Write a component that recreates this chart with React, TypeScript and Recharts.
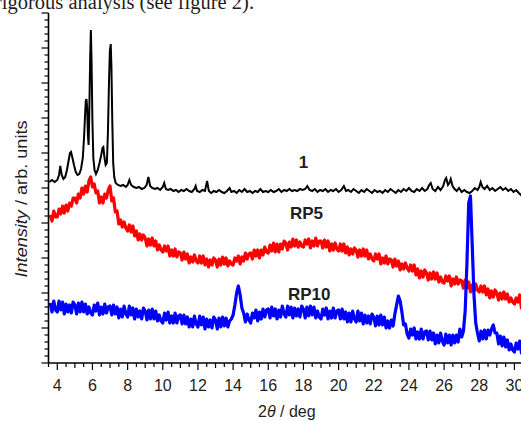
import React from 'react';
import { LineChart, Line, XAxis, YAxis } from 'recharts';

// 2θ grid shared by RP5 and RP10 scans
const gridTheta = [
  3.6, 3.7, 3.8, 3.9,
  4.0, 4.1, 4.2, 4.3, 4.4, 4.5, 4.6, 4.7, 4.8, 4.9,
  5.0, 5.1, 5.2, 5.3, 5.4, 5.5, 5.6, 5.7, 5.8, 5.9,
  6.0, 6.1, 6.2, 6.3, 6.4, 6.5, 6.6, 6.7, 6.8, 6.9,
  7.0, 7.1, 7.2, 7.3, 7.4, 7.5, 7.6, 7.7, 7.8, 7.9,
  8.0, 8.1, 8.2, 8.3, 8.4, 8.5, 8.6, 8.7, 8.8, 8.9,
  9.0, 9.1, 9.2, 9.3, 9.4, 9.5, 9.6, 9.7, 9.8, 9.9,
  10.0, 10.1, 10.2, 10.3, 10.4, 10.5, 10.6, 10.7, 10.8, 10.9,
  11.0, 11.1, 11.2, 11.3, 11.4, 11.5, 11.6, 11.7, 11.8, 11.9,
  12.0, 12.1, 12.2, 12.3, 12.4, 12.5, 12.6, 12.7, 12.8, 12.9,
  13.0, 13.1, 13.2, 13.3, 13.4, 13.5, 13.6, 13.7, 13.8, 13.9,
  14.0, 14.1, 14.2, 14.3, 14.4, 14.5, 14.6, 14.7, 14.8, 14.9,
  15.0, 15.1, 15.2, 15.3, 15.4, 15.5, 15.6, 15.7, 15.8, 15.9,
  16.0, 16.1, 16.2, 16.3, 16.4, 16.5, 16.6, 16.7, 16.8, 16.9,
  17.0, 17.1, 17.2, 17.3, 17.4, 17.5, 17.6, 17.7, 17.8, 17.9,
  18.0, 18.1, 18.2, 18.3, 18.4, 18.5, 18.6, 18.7, 18.8, 18.9,
  19.0, 19.1, 19.2, 19.3, 19.4, 19.5, 19.6, 19.7, 19.8, 19.9,
  20.0, 20.1, 20.2, 20.3, 20.4, 20.5, 20.6, 20.7, 20.8, 20.9,
  21.0, 21.1, 21.2, 21.3, 21.4, 21.5, 21.6, 21.7, 21.8, 21.9,
  22.0, 22.1, 22.2, 22.3, 22.4, 22.5, 22.6, 22.7, 22.8, 22.9,
  23.0, 23.1, 23.2, 23.3, 23.4, 23.5, 23.6, 23.7, 23.8, 23.9,
  24.0, 24.1, 24.2, 24.3, 24.4, 24.5, 24.6, 24.7, 24.8, 24.9,
  25.0, 25.1, 25.2, 25.3, 25.4, 25.5, 25.6, 25.7, 25.8, 25.9,
  26.0, 26.1, 26.2, 26.3, 26.4, 26.5, 26.6, 26.7, 26.8, 26.9,
  27.0, 27.1, 27.2, 27.3, 27.4, 27.5, 27.6, 27.7, 27.8, 27.9,
  28.0, 28.1, 28.2, 28.3, 28.4, 28.5, 28.6, 28.7, 28.8, 28.9,
  29.0, 29.1, 29.2, 29.3, 29.4, 29.5, 29.6, 29.7, 29.8, 29.9,
  30.0, 30.1, 30.2, 30.3, 30.4, 30.5, 30.6, 30.7, 30.8, 30.9,
];

// RP5 intensity (arb. units)
const rp5 = [
  148, 142, 152, 146,
  146, 154, 149, 157, 150, 158, 152, 160, 157, 165,
  165, 160, 169, 165, 175, 169, 177, 171, 182, 186,
  176, 179, 170, 172, 160, 166, 160, 169, 165, 173,
  177, 162, 165, 151, 152, 139, 143, 136, 141, 135,
  132, 138, 131, 137, 127, 132, 123, 129, 123, 128,
  125, 117, 124, 118, 125, 117, 122, 113, 118, 113,
  111, 117, 112, 117, 107, 113, 107, 114, 106, 111,
  110, 103, 111, 104, 109, 100, 106, 101, 108, 102,
  100, 107, 100, 107, 98, 104, 96, 103, 98, 105,
  103, 96, 104, 98, 106, 99, 105, 97, 102, 99,
  98, 105, 102, 107, 99, 106, 102, 110, 104, 109,
  110, 104, 113, 107, 113, 105, 113, 108, 116, 111,
  110, 118, 112, 120, 111, 119, 111, 119, 114, 122,
  120, 113, 121, 116, 124, 117, 123, 116, 121, 117,
  116, 123, 119, 124, 115, 122, 117, 125, 117, 122,
  122, 115, 123, 116, 122, 112, 119, 113, 120, 114,
  112, 119, 112, 119, 110, 116, 108, 114, 109, 115,
  113, 106, 113, 107, 114, 107, 113, 104, 109, 104,
  102, 109, 104, 109, 99, 105, 100, 107, 99, 104,
  103, 96, 104, 97, 102, 93, 99, 94, 100, 95,
  92, 98, 92, 98, 88, 94, 85, 92, 86, 93,
  90, 83, 90, 84, 91, 84, 90, 81, 86, 81,
  80, 87, 82, 87, 77, 84, 79, 86, 79, 83,
  82, 75, 83, 75, 81, 71, 78, 72, 79, 73,
  71, 77, 71, 77, 68, 74, 65, 72, 66, 73,
  70, 63, 70, 64, 71, 64, 69, 61, 65, 61,
  59, 65, 61, 68, 55, 61, 56, 63, 56, 60,
];

// RP10 intensity (arb. units)
const rp10 = [
  60, 51, 62, 53,
  51, 62, 53, 61, 49, 59, 51, 58, 50, 61,
  58, 49, 60, 51, 61, 51, 59, 49, 56, 50,
  48, 58, 52, 60, 48, 56, 49, 59, 50, 56,
  57, 48, 58, 49, 56, 45, 54, 46, 57, 49,
  46, 57, 48, 55, 44, 54, 46, 52, 44, 55,
  52, 43, 53, 44, 54, 44, 52, 42, 48, 42,
  40, 50, 43, 51, 40, 47, 40, 50, 40, 47,
  48, 39, 48, 39, 46, 36, 44, 36, 47, 39,
  36, 47, 38, 46, 34, 44, 36, 43, 35, 46,
  43, 34, 45, 36, 46, 37, 45, 36, 42, 44,
  48, 58, 70, 77, 68, 55, 50, 41, 49, 43,
  40, 50, 45, 53, 42, 51, 44, 54, 46, 53,
  54, 45, 56, 47, 54, 44, 53, 46, 57, 49,
  46, 57, 48, 56, 45, 55, 47, 54, 46, 57,
  54, 45, 56, 47, 57, 48, 56, 45, 52, 46,
  44, 54, 48, 55, 44, 52, 45, 55, 45, 52,
  53, 44, 54, 44, 51, 41, 50, 41, 52, 44,
  41, 52, 42, 50, 39, 48, 40, 47, 39, 49,
  46, 37, 47, 38, 48, 38, 46, 35, 42, 35,
  43, 37, 49, 58, 67, 62, 51, 38, 39, 29,
  25, 34, 28, 35, 24, 31, 24, 34, 24, 31,
  32, 23, 32, 23, 30, 19, 28, 20, 30, 22,
  18, 29, 20, 28, 18, 28, 20, 28, 21, 34,
  26, 32, 52, 100, 160, 167, 118, 68, 40, 30,
  22, 32, 24, 33, 24, 33, 28, 34, 38, 30,
  30, 19, 27, 17, 26, 16, 23, 13, 19, 13,
  11, 20, 14, 22, 10, 18, 11, 21, 12, 19,
];

// Sample "1": 2θ positions and intensities
const theta1 = [
  3.55, 3.7, 3.85, 4.0, 4.1, 4.17, 4.25, 4.35, 4.45, 4.55,
  4.65, 4.72, 4.78, 4.85, 4.95, 5.05, 5.15, 5.25, 5.35, 5.45,
  5.52, 5.58, 5.62, 5.66, 5.7, 5.74, 5.78, 5.82, 5.87, 5.91,
  5.95, 6.0, 6.05, 6.12, 6.2, 6.3, 6.4, 6.5, 6.57, 6.62,
  6.68, 6.75, 6.82, 6.88, 6.94, 6.99, 7.04, 7.08, 7.13, 7.18,
  7.24, 7.32, 7.45, 7.6, 7.75, 7.9, 8.0, 8.1, 8.2, 8.35,
  8.5, 8.65, 8.8, 8.95, 9.08, 9.18, 9.28, 9.4, 9.55, 9.7,
  9.85, 10.0, 10.08, 10.18, 10.3, 10.45, 10.6, 10.75, 10.9, 11.05,
  11.2, 11.35, 11.5, 11.65, 11.8, 11.87, 11.95, 12.1, 12.25, 12.4,
  12.52, 12.62, 12.75, 12.9, 13.05, 13.2, 13.35, 13.5, 13.65, 13.8,
  13.9, 14.05, 14.2, 14.35, 14.5, 14.65, 14.8, 14.95, 15.1, 15.25,
  15.4, 15.55, 15.7, 15.85, 16.0, 16.15, 16.3, 16.45, 16.6, 16.75,
  16.9, 17.05, 17.2, 17.35, 17.5, 17.65, 17.8, 17.95, 18.1, 18.22,
  18.35, 18.5, 18.65, 18.8, 18.95, 19.1, 19.25, 19.4, 19.55, 19.7,
  19.85, 20.0, 20.15, 20.3, 20.42, 20.55, 20.7, 20.85, 21.0, 21.15,
  21.3, 21.45, 21.6, 21.75, 21.9, 22.05, 22.2, 22.35, 22.5, 22.65,
  22.8, 22.95, 23.1, 23.25, 23.4, 23.55, 23.7, 23.85, 24.0, 24.15,
  24.3, 24.45, 24.6, 24.75, 24.9, 25.05, 25.15, 25.24, 25.35, 25.5,
  25.65, 25.8, 25.95, 26.05, 26.12, 26.22, 26.3, 26.38, 26.48, 26.6,
  26.72, 26.85, 27.0, 27.15, 27.3, 27.45, 27.6, 27.75, 27.9, 28.0,
  28.08, 28.18, 28.3, 28.45, 28.6, 28.75, 28.9, 29.05, 29.2, 29.35,
  29.5, 29.65, 29.8, 29.95, 30.1, 30.25, 30.37, 30.5, 30.65, 30.8,
  30.9,
];
const intensity1 = [
  181, 183, 181, 183, 188, 197, 188, 184, 186, 193,
  203, 210, 211, 206, 198, 191, 188, 189, 194, 205,
  225, 248, 262, 264, 255, 228, 218, 250, 305, 333,
  300, 240, 205, 193, 189, 193, 200, 208, 215, 216,
  206, 198, 200, 230, 280, 312, 319, 295, 240, 200,
  186, 180, 178, 177, 178, 176, 178, 183, 178, 176,
  175, 176, 174, 175, 178, 186, 177, 175, 174, 175,
  173, 176, 180, 174, 173, 174, 172, 173, 171, 173,
  172, 174, 172, 171, 174, 177, 172, 171, 173, 172,
  182, 172, 170, 172, 171, 173, 171, 170, 172, 175,
  171, 172, 170, 173, 171, 174, 171, 172, 170, 172,
  171, 174, 171, 172, 171, 173, 171, 172, 174, 171,
  173, 172, 174, 172, 173, 172, 174, 173, 174, 177,
  173, 172, 174, 171, 173, 172, 174, 171, 173, 172,
  174, 171, 173, 177, 172, 173, 171, 174, 172, 170,
  173, 171, 174, 172, 170, 173, 171, 172, 170, 173,
  171, 174, 172, 170, 173, 171, 174, 172, 175, 172,
  171, 174, 172, 175, 172, 174, 178, 180, 174, 172,
  176, 173, 177, 183, 185, 178, 180, 184, 177, 174,
  172, 175, 171, 173, 171, 170, 172, 175, 173, 176,
  181, 176, 174, 177, 173, 175, 172, 174, 176, 173,
  175, 172, 174, 171, 173, 170, 168, 172, 170, 171,
  170,
];

const xTicks = [
  3.5, 4, 4.5, 5, 5.5, 6, 6.5, 7, 7.5, 8, 8.5, 9, 9.5, 10, 10.5, 11, 11.5, 12, 12.5,
  13, 13.5, 14, 14.5, 15, 15.5, 16, 16.5, 17, 17.5, 18, 18.5, 19, 19.5, 20, 20.5,
  21, 21.5, 22, 22.5, 23, 23.5, 24, 24.5, 25, 25.5, 26, 26.5, 27, 27.5, 28, 28.5,
  29, 29.5, 30, 30.5, 31,
];
const xTickLabels = [4, 6, 8, 10, 12, 14, 16, 18, 20, 22, 24, 26, 28, 30];
const yTicks = [
  0, 7, 14, 21, 28, 35, 42, 49, 56, 63, 70, 77, 84, 91, 98, 105, 112, 119, 126, 133,
  140, 147, 154, 161, 168, 175, 182, 189, 196, 203, 210, 217, 224, 231, 238, 245,
  252, 259, 266, 273, 280, 287, 294, 301, 308, 315, 322, 329, 336, 343, 350,
];
const yMajorTicks = [0, 35, 70, 105, 140, 175, 210, 245, 280, 315, 350];

const seriesLabels = ['1', 'RP5', 'RP10'];

const data1 = theta1.map((t, i) => ({ t, v: intensity1[i] }));
const dataRP5 = gridTheta.map((t, i) => ({ t, v: rp5[i] }));
const dataRP10 = gridTheta.map((t, i) => ({ t, v: rp10[i] }));

const SANS = '"Liberation Sans", Arial, Helvetica, sans-serif';
const TEXT = '#1e1e1e';

function XTick(props: any) {
  const { x, y, payload } = props;
  const v = payload.value;
  const labelled = xTickLabels.includes(v);
  const major = Number.isInteger(v);
  return (
    <g>
      <line x1={x} x2={x} y1={y} y2={y + (labelled ? 7 : major ? 5 : 4)} stroke="#000" strokeWidth={1.2} />
      {labelled ? (
        <text x={x} y={y + 28} textAnchor="middle" fontFamily={SANS} fontSize={16} fill={TEXT}>
          {v}
        </text>
      ) : null}
    </g>
  );
}

function YTick(props: any) {
  const { x, y, payload } = props;
  const major = yMajorTicks.includes(payload.value);
  return <line x1={x - (major ? 7 : 4)} x2={x} y1={y} y2={y} stroke="#000" strokeWidth={1.2} />;
}

export default function App() {
  return (
    <div style={{ position: 'absolute', left: 0, top: 0, width: 521, height: 421, overflow: 'hidden', background: '#fff' }}>
      <div style={{ position: 'absolute', left: 0, top: 0 }}>
        <LineChart width={532} height={421} margin={{ top: 13, right: 0, bottom: 0, left: 0 }}>
          <XAxis
            type="number"
            dataKey="t"
            domain={[3.5, 31]}
            ticks={xTicks}
            interval={0}
            allowDataOverflow
            height={58}
            tickSize={0}
            tickMargin={0}
            tickLine={false}
            tick={<XTick />}
            axisLine={{ stroke: '#000', strokeWidth: 1.6 }}
          />
          <YAxis
            type="number"
            domain={[0, 350]}
            ticks={yTicks}
            interval={0}
            allowDataOverflow
            width={48.5}
            tickSize={0}
            tickMargin={0}
            tickLine={false}
            tick={<YTick />}
            axisLine={{ stroke: '#000', strokeWidth: 1.6 }}
          />
          <Line data={data1} dataKey="v" type="linear" stroke="#000000" strokeWidth={2} dot={false} activeDot={false} isAnimationActive={false} />
          <Line data={dataRP5} dataKey="v" type="linear" stroke="#ff0000" strokeWidth={3.2} strokeLinejoin="round" dot={false} activeDot={false} isAnimationActive={false} />
          <Line data={dataRP10} dataKey="v" type="linear" stroke="#0000ff" strokeWidth={3.2} strokeLinejoin="round" dot={false} activeDot={false} isAnimationActive={false} />
        </LineChart>
      </div>
      <svg width={521} height={421} style={{ position: 'absolute', left: 0, top: 0, pointerEvents: 'none' }}>
        <text x={-5} y={9} fontFamily='"Liberation Serif", "Times New Roman", serif' fontSize={20.5} fill={TEXT}>
          rigorous analysis (see figure 2).
        </text>
        <text
          transform="translate(27,199) rotate(-90)"
          textAnchor="middle"
          fontFamily={SANS}
          fontSize={17}
          fill={TEXT}
          textLength={157}
          lengthAdjust="spacingAndGlyphs"
        >
          <tspan fontStyle="italic">Intensity</tspan>
          <tspan> / arb. units</tspan>
        </text>
        <text x={258} y={417} fontFamily={SANS} fontSize={16} fill={TEXT}>
          2<tspan fontStyle="italic">θ</tspan> / deg
        </text>
        <text x={303.5} y={168} textAnchor="middle" fontFamily={SANS} fontSize={17} fontWeight="bold" fill={TEXT}>
          {seriesLabels[0]}
        </text>
        <text x={290} y={219} fontFamily={SANS} fontSize={17} fontWeight="bold" fill={TEXT}>
          {seriesLabels[1]}
        </text>
        <text x={288} y={300} fontFamily={SANS} fontSize={17} fontWeight="bold" fill={TEXT}>
          {seriesLabels[2]}
        </text>
      </svg>
    </div>
  );
}
